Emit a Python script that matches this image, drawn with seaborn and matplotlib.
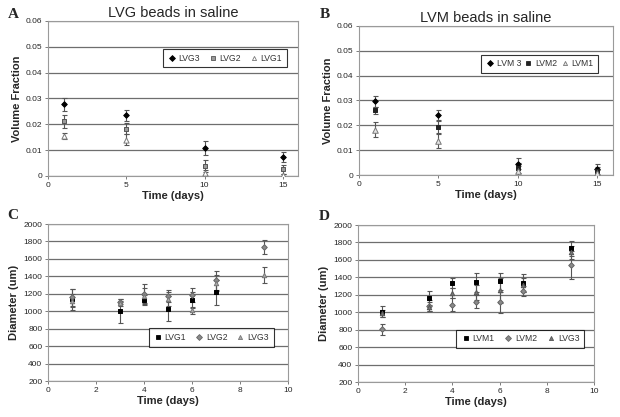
import numpy as np
import pandas as pd
import matplotlib.pyplot as plt
import seaborn as sns

sns.set_style("white")
plt.rcParams['font.family'] = ['Liberation Sans', 'DejaVu Sans']

# Panel A - LVG beads in saline (volume fraction)
dias_ab = [1, 5, 10, 15]
lvg3_a = [0.0278, 0.0234, 0.0108, 0.0073]
lvg3_a_err = [0.0025, 0.0023, 0.0026, 0.0020]
lvg2_a = [0.0212, 0.0183, 0.0038, 0.0026]
lvg2_a_err = [0.0025, 0.0020, 0.0023, 0.0018]
lvg1_a = [0.0154, 0.0141, 0.0012, 0.0003]
lvg1_a_err = [0.0012, 0.0020, 0.0012, 0.0005]

# Panel B - LVM beads in saline
lvm3_b = [0.0296, 0.0240, 0.0046, 0.0023]
lvm3_b_err = [0.0022, 0.0021, 0.0023, 0.0021]
lvm2_b = [0.0260, 0.0195, 0.0027, 0.0018]
lvm2_b_err = [0.0015, 0.0025, 0.0020, 0.0015]
lvm1_b = [0.0183, 0.0137, 0.0018, 0.0008]
lvm1_b_err = [0.0030, 0.0027, 0.0020, 0.0012]

# Panel C - diameter LVG
dias_cd = [1, 3, 4, 5, 6, 7, 9]
lvg1_c = [1135, 1004, 1131, 1031, 1127, 1215]
lvg1_c_err = [120, 135, 60, 140, 90, 140]
lvg2_c = [1158, 1108, 1200, 1177, 1190, 1354, 1731]
lvg2_c_err = [100, 30, 110, 70, 80, 110, 80]
lvg3_c = [1123, 1090, 1177, 1138, 1010, 1323, 1419]
lvg3_c_err = [80, 30, 90, 80, 40, 90, 90]

# Panel D - diameter LVM
lvm1_d = [1008, 1158, 1335, 1342, 1354, 1335, 1731]
lvm1_d_err = [60, 80, 60, 110, 100, 100, 90]
lvm2_d = [804, 1077, 1088, 1123, 1115, 1246, 1546]
lvm2_d_err = [60, 60, 70, 70, 120, 60, 160]
lvg3_d = [988, 1065, 1223, 1227, 1250, 1315, 1685]
lvg3_d_err = [40, 50, 60, 90, 140, 80, 70]


def painel(ax, series, xlim, ylim, yticks, xticks, ylabel, leg_pos, colsp, title=None):
    linhas = []
    for nome, x, y, err, mk, fc, ec, ms in series:
        d = pd.DataFrame({'x': x[:len(y)], 'y': y, 'err': err, 's': nome})
        ax.errorbar(d['x'], d['y'], yerr=d['err'], fmt='none', ecolor='#555555',
                    elinewidth=0.8, capsize=1.8, capthick=0.8, zorder=2)
        sns.scatterplot(data=d, x='x', y='y', ax=ax, marker=mk, s=ms,
                        color=fc, edgecolor=ec, linewidth=0.7, zorder=3, legend=False)
        linhas.append(plt.Line2D([], [], ls='none', marker=mk, markersize=3,
                                 markerfacecolor=fc, markeredgecolor=ec, markeredgewidth=0.6,
                                 label=nome))
    ax.set_xlim(*xlim)
    ax.set_ylim(*ylim)
    ax.set_yticks(yticks)
    ax.set_xticks(xticks)
    ax.yaxis.grid(True, color='#6e6e6e', linewidth=0.9)
    ax.xaxis.grid(False)
    ax.set_axisbelow(True)
    for sp in ax.spines.values():
        sp.set_color('#9a9a9a')
        sp.set_linewidth(0.8)
    ax.tick_params(axis='both', labelsize=6, length=2.5, width=0.6, color='#666666',
                   direction='out', bottom=True, left=True, pad=1.5)
    ax.set_xlabel('Time (days)', fontsize=8, fontweight='bold', labelpad=2)
    ax.set_ylabel(ylabel, fontsize=8, fontweight='bold', labelpad=3)
    leg = ax.legend(handles=linhas, ncol=3, loc='center', bbox_to_anchor=leg_pos,
                    fontsize=6.2, frameon=True, fancybox=False,
                    handletextpad=0.3, columnspacing=colsp, borderpad=0.55,
                    handlelength=1.0)
    leg.get_frame().set_edgecolor('black')
    leg.get_frame().set_linewidth(0.8)
    for t in leg.get_texts():
        t.set_color('#333333')
    if title:
        ax.set_title(title, fontsize=10.5, pad=3)


fig = plt.figure(figsize=(6.2, 4.17), dpi=100)
ax_a = fig.add_axes([0.0774, 0.578, 0.404, 0.372])
ax_b = fig.add_axes([0.579, 0.580, 0.410, 0.358])
ax_c = fig.add_axes([0.0774, 0.0863, 0.387, 0.3765])
ax_d = fig.add_axes([0.5774, 0.0839, 0.381, 0.3765])

painel(ax_a,
       [('LVG3', dias_ab, lvg3_a, lvg3_a_err, 'D', 'black', 'black', 8),
        ('LVG2', dias_ab, lvg2_a, lvg2_a_err, 's', '#9a9a9a', '#555555', 12),
        ('LVG1', dias_ab, lvg1_a, lvg1_a_err, '^', 'white', '#777777', 14)],
       (0, 16), (0, 0.06), np.arange(0, 0.061, 0.01), [0, 5, 10, 15],
       'Volume Fraction', (0.706, 0.76), 0.95,
       title='LVG beads in saline')
ax_a.set_yticklabels(['0', '0.01', '0.02', '0.03', '0.04', '0.05', '0.06'])

painel(ax_b,
       [('LVM 3', dias_ab, lvm3_b, lvm3_b_err, 'D', 'black', 'black', 8),
        ('LVM2', dias_ab, lvm2_b, lvm2_b_err, 's', '#222222', '#222222', 12),
        ('LVM1', dias_ab, lvm1_b, lvm1_b_err, '^', '#e6e6e6', '#777777', 16)],
       (0, 16), (0, 0.06), np.arange(0, 0.061, 0.01), [0, 5, 10, 15],
       'Volume Fraction', (0.71, 0.745), 0.35,
       title='LVM beads in saline')
ax_b.set_yticklabels(['0', '0.01', '0.02', '0.03', '0.04', '0.05', '0.06'])

painel(ax_c,
       [('LVG1', dias_cd, lvg1_c, lvg1_c_err, 's', 'black', 'black', 9),
        ('LVG2', dias_cd, lvg2_c, lvg2_c_err, 'D', '#8a8a8a', '#666666', 8),
        ('LVG3', dias_cd, lvg3_c, lvg3_c_err, '^', '#aaaaaa', '#777777', 10)],
       (0, 10), (200, 2000), range(200, 2001, 200), range(0, 11, 2),
       'Diameter (um)', (0.68, 0.277), 1.0)

painel(ax_d,
       [('LVM1', dias_cd, lvm1_d, lvm1_d_err, 's', 'black', 'black', 10),
        ('LVM2', dias_cd, lvm2_d, lvm2_d_err, 'D', '#8a8a8a', '#666666', 8),
        ('LVG3', dias_cd, lvg3_d, lvg3_d_err, '^', '#777777', '#555555', 10)],
       (0, 10), (200, 2000), range(200, 2001, 200), range(0, 11, 2),
       'Diameter (um)', (0.687, 0.274), 1.1)

# letras dos painéis
for letra, (px, py) in zip('ABCD', [(0.012, 0.966), (0.516, 0.966),
                                    (0.012, 0.484), (0.514, 0.482)]):
    fig.text(px, py, letra, fontsize=11, fontweight='bold', family='Liberation Serif',
             ha='left', va='center')

fig.savefig('out.png', dpi=100)
